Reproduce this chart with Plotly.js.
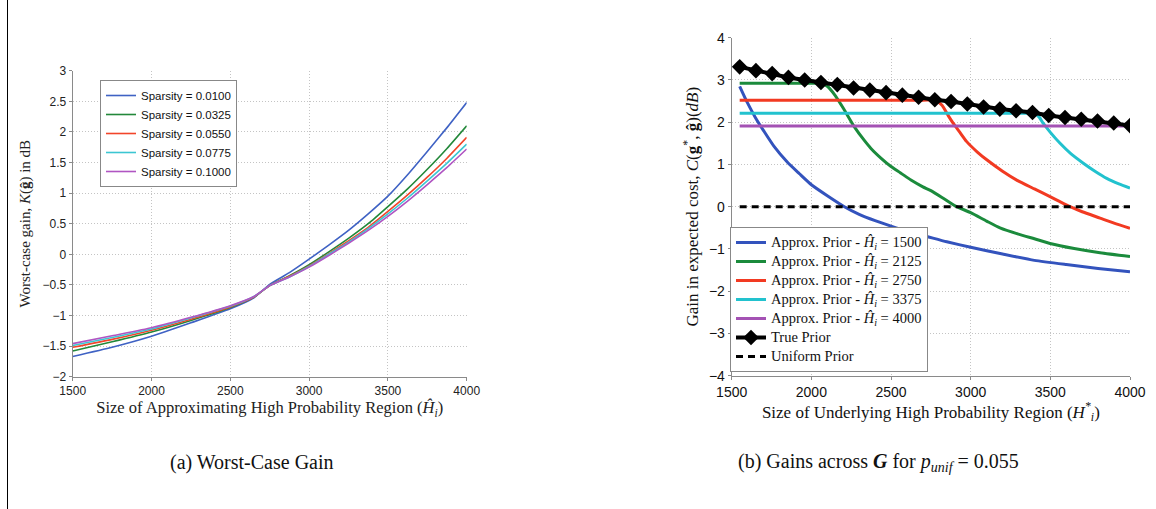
<!DOCTYPE html>
<html>
<head>
<meta charset="utf-8">
<script src="https://cdn.plot.ly/plotly-3.0.1.min.js"></script>
<style>html,body{margin:0;padding:0;background:#fff;}#chart{width:1156px;height:509px;}</style>
</head>
<body>
<div id="chart"></div>
<script>
// ---------- Panel (a): Worst-case gain ----------
const approxRegionA = [1500, 1750, 2000, 2250, 2500, 2650, 2750, 2875, 3000, 3125, 3250, 3375, 3500, 3625, 3750, 3875, 4000];
const sparsityLabels = ["Sparsity = 0.0100", "Sparsity = 0.0325", "Sparsity = 0.0550", "Sparsity = 0.0775", "Sparsity = 0.1000"];
const gainSp0100 = [-1.67, -1.52, -1.34, -1.12, -0.89, -0.71, -0.49, -0.30, -0.08, 0.15, 0.39, 0.66, 0.95, 1.30, 1.68, 2.07, 2.48];
const gainSp0325 = [-1.58, -1.43, -1.27, -1.08, -0.87, -0.70, -0.51, -0.35, -0.17, 0.04, 0.26, 0.50, 0.78, 1.07, 1.39, 1.73, 2.10];
const gainSp0550 = [-1.52, -1.39, -1.24, -1.06, -0.86, -0.70, -0.51, -0.36, -0.19, 0.01, 0.22, 0.44, 0.70, 0.97, 1.26, 1.57, 1.91];
const gainSp0775 = [-1.49, -1.36, -1.22, -1.04, -0.85, -0.69, -0.51, -0.37, -0.20, 0.00, 0.20, 0.42, 0.66, 0.92, 1.20, 1.49, 1.80];
const gainSp1000 = [-1.46, -1.33, -1.20, -1.03, -0.84, -0.69, -0.51, -0.37, -0.21, -0.02, 0.18, 0.39, 0.62, 0.87, 1.14, 1.42, 1.72];
const colorsA = ["#3f62c4", "#23883a", "#f2452a", "#3cc6d2", "#b055c2"];

// ---------- Panel (b): Gains across G ----------
const trueX = [1550, 1652, 1754, 1856, 1958, 2060, 2163, 2265, 2367, 2469, 2571, 2673, 2775, 2877, 2979, 3081, 3183, 3285, 3388, 3490, 3592, 3694, 3796, 3898, 4000];
const trueY = [3.31, 3.22, 3.15, 3.06, 3.00, 2.94, 2.89, 2.81, 2.76, 2.70, 2.64, 2.59, 2.53, 2.49, 2.43, 2.36, 2.31, 2.27, 2.23, 2.16, 2.11, 2.07, 2.03, 1.98, 1.92];

const h1500X = [1550, 1600, 1650, 1700, 1767, 1850, 1925, 2000, 2100, 2207, 2300, 2400, 2500, 2600, 2730, 2850, 3000, 3200, 3400, 3600, 3800, 4000];
const h1500Y = [2.85, 2.45, 2.10, 1.80, 1.42, 1.05, 0.78, 0.52, 0.26, 0.00, -0.18, -0.33, -0.46, -0.58, -0.71, -0.83, -0.96, -1.12, -1.27, -1.37, -1.46, -1.54];

const h2125X = [1550, 2000, 2060, 2100, 2150, 2207, 2270, 2330, 2374, 2440, 2500, 2560, 2625, 2700, 2750, 2840, 2912, 3000, 3100, 3184, 3300, 3400, 3498, 3650, 3812, 4000];
const h2125Y = [2.92, 2.92, 2.92, 2.85, 2.63, 2.29, 1.89, 1.58, 1.38, 1.14, 0.95, 0.80, 0.63, 0.47, 0.38, 0.17, 0.00, -0.14, -0.34, -0.50, -0.65, -0.76, -0.87, -0.99, -1.09, -1.18];

const h2750X = [1550, 2700, 2780, 2820, 2860, 2891, 2930, 2975, 3040, 3101, 3200, 3289, 3400, 3498, 3560, 3624, 3700, 3812, 3900, 4000];
const h2750Y = [2.52, 2.52, 2.52, 2.40, 2.15, 1.97, 1.77, 1.54, 1.30, 1.11, 0.84, 0.63, 0.42, 0.24, 0.12, 0.00, -0.12, -0.27, -0.39, -0.51];

const h3375X = [1550, 3330, 3400, 3430, 3456, 3500, 3561, 3630, 3707, 3780, 3854, 3930, 4000];
const h3375Y = [2.21, 2.21, 2.21, 2.12, 1.97, 1.76, 1.50, 1.25, 1.03, 0.84, 0.67, 0.54, 0.44];

const h4000X = [1550, 4000];
const h4000Y = [1.91, 1.91];

const uniformX = [1550, 4000];
const uniformY = [0, 0];

const approxLabels = ["1500", "2125", "2750", "3375", "4000"];
const colorsB = ["#3353bd", "#1b8b3c", "#f23a22", "#22c2ce", "#a452b4"];

const xTicks = [1500, 2000, 2500, 3000, 3500, 4000];

const traces = [];
const seriesA = [gainSp0100, gainSp0325, gainSp0550, gainSp0775, gainSp1000];
seriesA.forEach((ys, i) => {
  traces.push({
    x: approxRegionA, y: ys, type: 'scatter', mode: 'lines',
    name: sparsityLabels[i], line: {color: colorsA[i], width: 1.6, shape: 'spline', smoothing: 0.5},
    xaxis: 'x', yaxis: 'y', legend: 'legend'
  });
});

const seriesB = [[h1500X, h1500Y], [h2125X, h2125Y], [h2750X, h2750Y], [h3375X, h3375Y], [h4000X, h4000Y]];
seriesB.forEach((s, i) => {
  traces.push({
    x: s[0], y: s[1], type: 'scatter', mode: 'lines',
    name: '<span style="font-size:14.5px">Approx. Prior - <i>Ĥ<sub>i</sub></i> = ' + approxLabels[i] + '</span>',
    line: {color: colorsB[i], width: 3, shape: 'spline', smoothing: 0.6},
    xaxis: 'x2', yaxis: 'y2', legend: 'legend2'
  });
});
traces.push({
  x: trueX, y: trueY, type: 'scatter', mode: 'lines+markers',
  name: '<span style="font-size:14.5px">True Prior</span>',
  line: {color: '#000', width: 4}, marker: {symbol: 'diamond', size: 12, color: '#000'},
  xaxis: 'x2', yaxis: 'y2', legend: 'legend2'
});
traces.push({
  x: uniformX, y: uniformY, type: 'scatter', mode: 'lines',
  name: '<span style="font-size:14.5px">Uniform Prior</span>',
  line: {color: '#000', width: 3, dash: '7px,5px'},
  xaxis: 'x2', yaxis: 'y2', legend: 'legend2'
});

const W = 1156, H = 509;
const serif = '"Liberation Serif", "DejaVu Serif", serif';
const sans = '"Liberation Sans", Arial, sans-serif';

const axisCommon = {
  showline: true, linecolor: '#8a8a8a', linewidth: 1,
  ticks: 'outside', ticklen: 3, tickcolor: '#8a8a8a',
  showgrid: true, gridcolor: '#c4c4c4', griddash: '1px,2px', gridwidth: 1,
  zeroline: false, mirror: false
};

const layout = {
  width: W, height: H,
  margin: {l: 0, r: 0, t: 0, b: 0},
  paper_bgcolor: '#fff', plot_bgcolor: '#fff',
  showlegend: true,
  xaxis: Object.assign({}, axisCommon, {
    domain: [72.7 / W, 466.7 / W], range: [1500, 4000], tickvals: xTicks, anchor: 'y',
    tickfont: {family: sans, size: 12, color: '#222'},
    title: {text: 'Size of Approximating High Probability Region (<i>Ĥ<sub>i</sub></i>)', font: {family: serif, size: 16.5, color: '#222'}, standoff: 4}
  }),
  yaxis: Object.assign({}, axisCommon, {
    domain: [1 - 376.7 / H, 1 - 70.7 / H], range: [-2, 3], dtick: 0.5, anchor: 'x',
    tickfont: {family: sans, size: 12, color: '#222'},
    title: {text: 'Worst-case gain, <i>K</i>(<b>ĝ</b>) in dB', font: {family: serif, size: 15, color: '#222'}, standoff: 8}
  }),
  xaxis2: Object.assign({}, axisCommon, {
    domain: [731.7 / W, 1130 / W], range: [1500, 4000], tickvals: xTicks, anchor: 'y2',
    tickfont: {family: sans, size: 14, color: '#111'},
    title: {text: 'Size of Underlying High Probability Region (<i>H<sup>*</sup><sub>i</sub></i>)', font: {family: serif, size: 17, color: '#111'}, standoff: 1}
  }),
  yaxis2: Object.assign({}, axisCommon, {
    domain: [1 - 375.7 / H, 1 - 37.7 / H], range: [-4, 4], dtick: 1, anchor: 'x2',
    tickfont: {family: sans, size: 14, color: '#111'},
    title: {text: 'Gain in expected cost, <i>C</i>(<b>g</b><sup>*</sup>, <b>ĝ</b>)(<i>dB</i>)', font: {family: serif, size: 17, color: '#111'}, standoff: 5}
  }),
  legend: {
    x: 100 / W, y: 1 - 80 / H, xanchor: 'left', yanchor: 'top',
    bgcolor: '#fff', bordercolor: '#888', borderwidth: 1,
    font: {family: sans, size: 11.5, color: '#111'}, tracegroupgap: 0
  },
  legend2: {
    x: 730 / W, y: 1 - 372 / H, xanchor: 'left', yanchor: 'bottom',
    bgcolor: '#fff', bordercolor: '#888', borderwidth: 1,
    font: {family: serif, size: 12, color: '#111'}, tracegroupgap: 0
  },
  shapes: [
    {type: 'line', xref: 'paper', yref: 'paper', x0: 7.5 / W, x1: 7.5 / W, y0: 0, y1: 1, line: {color: '#000', width: 1}}
  ],
  annotations: [
    {text: '(a) Worst-Case Gain', xref: 'paper', yref: 'paper', x: 252 / W, y: 1 - 462 / H, xanchor: 'center', yanchor: 'middle', showarrow: false, font: {family: serif, size: 20, color: '#111'}},
    {text: '(b) Gains across <b><i>G</i></b> for <i>p<sub>unif</sub></i> = 0.055', xref: 'paper', yref: 'paper', x: 878 / W, y: 1 - 462 / H, xanchor: 'center', yanchor: 'middle', showarrow: false, font: {family: serif, size: 20, color: '#111'}}
  ]
};

Plotly.newPlot('chart', traces, layout, {displayModeBar: false, staticPlot: true});
</script>
</body>
</html>
